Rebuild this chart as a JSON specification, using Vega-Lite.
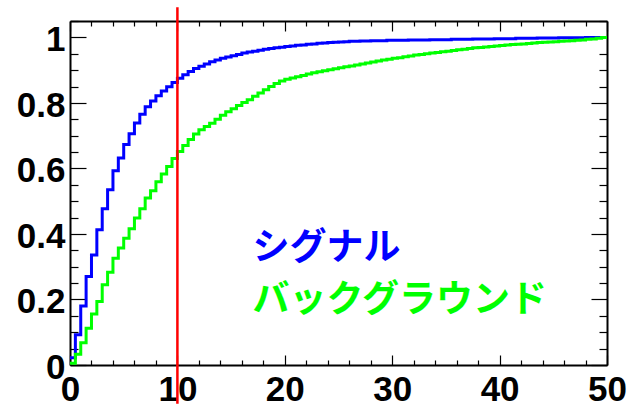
{
  "$schema": "https://vega.github.io/schema/vega-lite/v6.json",
  "width": 537,
  "height": 344,
  "autosize": {"type": "none"},
  "padding": {"left": 70, "top": 21, "right": 26, "bottom": 39},
  "background": "white",
  "config": {
    "view": {"stroke": null},
    "axis": {
      "title": null,
      "grid": false,
      "domainColor": "black",
      "domainWidth": 2,
      "tickColor": "black",
      "tickWidth": 1.2,
      "labelColor": "black",
      "labelFont": "Liberation Sans",
      "labelFontWeight": "bold",
      "labelFontSize": 35,
      "labelFlush": false,
      "labelOverlap": false,
      "labelBound": false
    }
  },
  "resolve": {"axis": {"x": "independent", "y": "independent"}},
  "datasets": {
    "cdf": [
      {"series": "シグナル", "x": 0, "y": 0.022}, {"series": "シグナル", "x": 0.5, "y": 0.092}, {"series": "シグナル", "x": 1, "y": 0.18}, {"series": "シグナル", "x": 1.5, "y": 0.27},
      {"series": "シグナル", "x": 2, "y": 0.336}, {"series": "シグナル", "x": 2.5, "y": 0.413}, {"series": "シグナル", "x": 3, "y": 0.477}, {"series": "シグナル", "x": 3.5, "y": 0.535},
      {"series": "シグナル", "x": 4, "y": 0.593}, {"series": "シグナル", "x": 4.5, "y": 0.632}, {"series": "シグナル", "x": 5, "y": 0.673}, {"series": "シグナル", "x": 5.5, "y": 0.706},
      {"series": "シグナル", "x": 6, "y": 0.739}, {"series": "シグナル", "x": 6.5, "y": 0.765}, {"series": "シグナル", "x": 7, "y": 0.788}, {"series": "シグナル", "x": 7.5, "y": 0.806},
      {"series": "シグナル", "x": 8, "y": 0.822}, {"series": "シグナル", "x": 8.5, "y": 0.836}, {"series": "シグナル", "x": 9, "y": 0.849}, {"series": "シグナル", "x": 9.5, "y": 0.862},
      {"series": "シグナル", "x": 10, "y": 0.875}, {"series": "シグナル", "x": 10.5, "y": 0.886}, {"series": "シグナル", "x": 11, "y": 0.896}, {"series": "シグナル", "x": 11.5, "y": 0.905},
      {"series": "シグナル", "x": 12, "y": 0.912}, {"series": "シグナル", "x": 12.5, "y": 0.919}, {"series": "シグナル", "x": 13, "y": 0.926}, {"series": "シグナル", "x": 13.5, "y": 0.931},
      {"series": "シグナル", "x": 14, "y": 0.936}, {"series": "シグナル", "x": 14.5, "y": 0.94}, {"series": "シグナル", "x": 15, "y": 0.944}, {"series": "シグナル", "x": 15.5, "y": 0.948},
      {"series": "シグナル", "x": 16, "y": 0.952}, {"series": "シグナル", "x": 16.5, "y": 0.955}, {"series": "シグナル", "x": 17, "y": 0.958}, {"series": "シグナル", "x": 17.5, "y": 0.961},
      {"series": "シグナル", "x": 18, "y": 0.964}, {"series": "シグナル", "x": 18.5, "y": 0.966}, {"series": "シグナル", "x": 19, "y": 0.968}, {"series": "シグナル", "x": 19.5, "y": 0.97},
      {"series": "シグナル", "x": 20, "y": 0.972}, {"series": "シグナル", "x": 20.5, "y": 0.974}, {"series": "シグナル", "x": 21, "y": 0.976}, {"series": "シグナル", "x": 21.5, "y": 0.977},
      {"series": "シグナル", "x": 22, "y": 0.979}, {"series": "シグナル", "x": 22.5, "y": 0.98}, {"series": "シグナル", "x": 23, "y": 0.982}, {"series": "シグナル", "x": 23.5, "y": 0.983},
      {"series": "シグナル", "x": 24, "y": 0.984}, {"series": "シグナル", "x": 24.5, "y": 0.985}, {"series": "シグナル", "x": 25, "y": 0.986}, {"series": "シグナル", "x": 25.5, "y": 0.987},
      {"series": "シグナル", "x": 26, "y": 0.988}, {"series": "シグナル", "x": 26.5, "y": 0.988}, {"series": "シグナル", "x": 27, "y": 0.989}, {"series": "シグナル", "x": 27.5, "y": 0.989},
      {"series": "シグナル", "x": 28, "y": 0.99}, {"series": "シグナル", "x": 28.5, "y": 0.99}, {"series": "シグナル", "x": 29, "y": 0.99}, {"series": "シグナル", "x": 29.5, "y": 0.991},
      {"series": "シグナル", "x": 30, "y": 0.991}, {"series": "シグナル", "x": 30.5, "y": 0.991}, {"series": "シグナル", "x": 31, "y": 0.991}, {"series": "シグナル", "x": 31.5, "y": 0.992},
      {"series": "シグナル", "x": 32, "y": 0.992}, {"series": "シグナル", "x": 32.5, "y": 0.992}, {"series": "シグナル", "x": 33, "y": 0.992}, {"series": "シグナル", "x": 33.5, "y": 0.993},
      {"series": "シグナル", "x": 34, "y": 0.993}, {"series": "シグナル", "x": 34.5, "y": 0.993}, {"series": "シグナル", "x": 35, "y": 0.993}, {"series": "シグナル", "x": 35.5, "y": 0.994},
      {"series": "シグナル", "x": 36, "y": 0.994}, {"series": "シグナル", "x": 36.5, "y": 0.994}, {"series": "シグナル", "x": 37, "y": 0.994}, {"series": "シグナル", "x": 37.5, "y": 0.995},
      {"series": "シグナル", "x": 38, "y": 0.995}, {"series": "シグナル", "x": 38.5, "y": 0.995}, {"series": "シグナル", "x": 39, "y": 0.995}, {"series": "シグナル", "x": 39.5, "y": 0.996},
      {"series": "シグナル", "x": 40, "y": 0.996}, {"series": "シグナル", "x": 40.5, "y": 0.996}, {"series": "シグナル", "x": 41, "y": 0.996}, {"series": "シグナル", "x": 41.5, "y": 0.997},
      {"series": "シグナル", "x": 42, "y": 0.997}, {"series": "シグナル", "x": 42.5, "y": 0.997}, {"series": "シグナル", "x": 43, "y": 0.997}, {"series": "シグナル", "x": 43.5, "y": 0.998},
      {"series": "シグナル", "x": 44, "y": 0.998}, {"series": "シグナル", "x": 44.5, "y": 0.998}, {"series": "シグナル", "x": 45, "y": 0.998}, {"series": "シグナル", "x": 45.5, "y": 0.999},
      {"series": "シグナル", "x": 46, "y": 0.999}, {"series": "シグナル", "x": 46.5, "y": 0.999}, {"series": "シグナル", "x": 47, "y": 0.999}, {"series": "シグナル", "x": 47.5, "y": 0.999},
      {"series": "シグナル", "x": 48, "y": 1}, {"series": "シグナル", "x": 48.5, "y": 1}, {"series": "シグナル", "x": 49, "y": 1}, {"series": "シグナル", "x": 49.5, "y": 1},
      {"series": "シグナル", "x": 50, "y": 1},
      {"series": "バックグラウンド", "x": 0, "y": 0.005}, {"series": "バックグラウンド", "x": 0.5, "y": 0.033}, {"series": "バックグラウンド", "x": 1, "y": 0.068}, {"series": "バックグラウンド", "x": 1.5, "y": 0.112},
      {"series": "バックグラウンド", "x": 2, "y": 0.156}, {"series": "バックグラウンド", "x": 2.5, "y": 0.194}, {"series": "バックグラウンド", "x": 3, "y": 0.245}, {"series": "バックグラウンド", "x": 3.5, "y": 0.283},
      {"series": "バックグラウンド", "x": 4, "y": 0.326}, {"series": "バックグラウンド", "x": 4.5, "y": 0.357}, {"series": "バックグラウンド", "x": 5, "y": 0.387}, {"series": "バックグラウンド", "x": 5.5, "y": 0.416},
      {"series": "バックグラウンド", "x": 6, "y": 0.449}, {"series": "バックグラウンド", "x": 6.5, "y": 0.477}, {"series": "バックグラウンド", "x": 7, "y": 0.51}, {"series": "バックグラウンド", "x": 7.5, "y": 0.532},
      {"series": "バックグラウンド", "x": 8, "y": 0.559}, {"series": "バックグラウンド", "x": 8.5, "y": 0.583}, {"series": "バックグラウンド", "x": 9, "y": 0.606}, {"series": "バックグラウンド", "x": 9.5, "y": 0.63},
      {"series": "バックグラウンド", "x": 10, "y": 0.652}, {"series": "バックグラウンド", "x": 10.5, "y": 0.67}, {"series": "バックグラウンド", "x": 11, "y": 0.688}, {"series": "バックグラウンド", "x": 11.5, "y": 0.705},
      {"series": "バックグラウンド", "x": 12, "y": 0.718}, {"series": "バックグラウンド", "x": 12.5, "y": 0.728}, {"series": "バックグラウンド", "x": 13, "y": 0.738}, {"series": "バックグラウンド", "x": 13.5, "y": 0.75},
      {"series": "バックグラウンド", "x": 14, "y": 0.762}, {"series": "バックグラウンド", "x": 14.5, "y": 0.773}, {"series": "バックグラウンド", "x": 15, "y": 0.782}, {"series": "バックグラウンド", "x": 15.5, "y": 0.792},
      {"series": "バックグラウンド", "x": 16, "y": 0.801}, {"series": "バックグラウンド", "x": 16.5, "y": 0.81}, {"series": "バックグラウンド", "x": 17, "y": 0.82}, {"series": "バックグラウンド", "x": 17.5, "y": 0.83},
      {"series": "バックグラウンド", "x": 18, "y": 0.84}, {"series": "バックグラウンド", "x": 18.5, "y": 0.85}, {"series": "バックグラウンド", "x": 19, "y": 0.859}, {"series": "バックグラウンド", "x": 19.5, "y": 0.867},
      {"series": "バックグラウンド", "x": 20, "y": 0.872}, {"series": "バックグラウンド", "x": 20.5, "y": 0.876}, {"series": "バックグラウンド", "x": 21, "y": 0.88}, {"series": "バックグラウンド", "x": 21.5, "y": 0.884},
      {"series": "バックグラウンド", "x": 22, "y": 0.888}, {"series": "バックグラウンド", "x": 22.5, "y": 0.892}, {"series": "バックグラウンド", "x": 23, "y": 0.895}, {"series": "バックグラウンド", "x": 23.5, "y": 0.898},
      {"series": "バックグラウンド", "x": 24, "y": 0.901}, {"series": "バックグラウンド", "x": 24.5, "y": 0.904}, {"series": "バックグラウンド", "x": 25, "y": 0.907}, {"series": "バックグラウンド", "x": 25.5, "y": 0.91},
      {"series": "バックグラウンド", "x": 26, "y": 0.913}, {"series": "バックグラウンド", "x": 26.5, "y": 0.916}, {"series": "バックグラウンド", "x": 27, "y": 0.919}, {"series": "バックグラウンド", "x": 27.5, "y": 0.922},
      {"series": "バックグラウンド", "x": 28, "y": 0.925}, {"series": "バックグラウンド", "x": 28.5, "y": 0.928}, {"series": "バックグラウンド", "x": 29, "y": 0.931}, {"series": "バックグラウンド", "x": 29.5, "y": 0.933},
      {"series": "バックグラウンド", "x": 30, "y": 0.936}, {"series": "バックグラウンド", "x": 30.5, "y": 0.938}, {"series": "バックグラウンド", "x": 31, "y": 0.941}, {"series": "バックグラウンド", "x": 31.5, "y": 0.943},
      {"series": "バックグラウンド", "x": 32, "y": 0.946}, {"series": "バックグラウンド", "x": 32.5, "y": 0.948}, {"series": "バックグラウンド", "x": 33, "y": 0.95}, {"series": "バックグラウンド", "x": 33.5, "y": 0.952},
      {"series": "バックグラウンド", "x": 34, "y": 0.954}, {"series": "バックグラウンド", "x": 34.5, "y": 0.956}, {"series": "バックグラウンド", "x": 35, "y": 0.958}, {"series": "バックグラウンド", "x": 35.5, "y": 0.96},
      {"series": "バックグラウンド", "x": 36, "y": 0.962}, {"series": "バックグラウンド", "x": 36.5, "y": 0.964}, {"series": "バックグラウンド", "x": 37, "y": 0.966}, {"series": "バックグラウンド", "x": 37.5, "y": 0.968},
      {"series": "バックグラウンド", "x": 38, "y": 0.969}, {"series": "バックグラウンド", "x": 38.5, "y": 0.971}, {"series": "バックグラウンド", "x": 39, "y": 0.972}, {"series": "バックグラウンド", "x": 39.5, "y": 0.974},
      {"series": "バックグラウンド", "x": 40, "y": 0.975}, {"series": "バックグラウンド", "x": 40.5, "y": 0.977}, {"series": "バックグラウンド", "x": 41, "y": 0.978}, {"series": "バックグラウンド", "x": 41.5, "y": 0.979},
      {"series": "バックグラウンド", "x": 42, "y": 0.98}, {"series": "バックグラウンド", "x": 42.5, "y": 0.981}, {"series": "バックグラウンド", "x": 43, "y": 0.983}, {"series": "バックグラウンド", "x": 43.5, "y": 0.984},
      {"series": "バックグラウンド", "x": 44, "y": 0.985}, {"series": "バックグラウンド", "x": 44.5, "y": 0.986}, {"series": "バックグラウンド", "x": 45, "y": 0.987}, {"series": "バックグラウンド", "x": 45.5, "y": 0.988},
      {"series": "バックグラウンド", "x": 46, "y": 0.989}, {"series": "バックグラウンド", "x": 46.5, "y": 0.99}, {"series": "バックグラウンド", "x": 47, "y": 0.991}, {"series": "バックグラウンド", "x": 47.5, "y": 0.992},
      {"series": "バックグラウンド", "x": 48, "y": 0.994}, {"series": "バックグラウンド", "x": 48.5, "y": 0.995}, {"series": "バックグラウンド", "x": 49, "y": 0.997}, {"series": "バックグラウンド", "x": 49.5, "y": 1},
      {"series": "バックグラウンド", "x": 50, "y": 1}
    ],
    "names": [
      {"series": "シグナル", "x": 17, "y": 0.354},
      {"series": "バックグラウンド", "x": 17, "y": 0.196}
    ],
    "cut": [
      {"x": 10, "y": -0.118, "y2": 1.092}
    ]
  },
  "layer": [
    {
      "data": {"name": "cdf"},
      "transform": [{"filter": "datum.series === 'シグナル'"}],
      "mark": {"type": "line", "interpolate": "step-after", "strokeWidth": 3},
      "encoding": {
        "x": {
          "field": "x", "type": "quantitative", "scale": {"domain": [0, 50], "nice": false},
          "axis": {"orient": "bottom", "values": [0, 10, 20, 30, 40, 50], "tickSize": -10,
                   "labelBaseline": "alphabetic", "labelPadding": 45, "labelExpr": "format(datum.value, '~g')"}
        },
        "y": {
          "field": "y", "type": "quantitative", "scale": {"domain": [0, 1.05], "nice": false, "zero": false},
          "axis": {"orient": "left", "values": [0, 0.2, 0.4, 0.6, 0.8, 1], "tickSize": -16,
                   "labelBaseline": "alphabetic", "labelOffset": 13.5, "labelPadding": 21, "labelExpr": "format(datum.value, '~g')"}
        },
        "color": {"field": "series", "type": "nominal", "legend": null,
                  "scale": {"domain": ["シグナル", "バックグラウンド"], "range": ["#0000ff", "#00ff00"]}}
      }
    },
    {
      "data": {"name": "cdf"},
      "transform": [{"filter": "datum.series === 'バックグラウンド'"}],
      "mark": {"type": "line", "interpolate": "step-after", "strokeWidth": 3},
      "encoding": {
        "x": {
          "field": "x", "type": "quantitative", "scale": {"domain": [0, 50], "nice": false},
          "axis": {"orient": "bottom", "values": [2, 4, 6, 8, 12, 14, 16, 18, 22, 24, 26, 28, 32, 34, 36, 38, 42, 44, 46, 48],
                   "tickSize": -5, "labels": false, "domain": false}
        },
        "y": {
          "field": "y", "type": "quantitative", "scale": {"domain": [0, 1.05], "nice": false, "zero": false},
          "axis": {"orient": "left", "values": [0.05, 0.1, 0.15, 0.25, 0.3, 0.35, 0.45, 0.5, 0.55, 0.65, 0.7, 0.75, 0.85, 0.9, 0.95, 1.05],
                   "tickSize": -8, "labels": false, "domain": false}
        },
        "color": {"field": "series", "type": "nominal", "legend": null,
                  "scale": {"domain": ["シグナル", "バックグラウンド"], "range": ["#0000ff", "#00ff00"]}}
      }
    },
    {
      "data": {"name": "cut"},
      "mark": {"type": "rule", "color": "#ff0000", "strokeWidth": 2.5, "clip": false},
      "encoding": {
        "x": {
          "field": "x", "type": "quantitative", "scale": {"domain": [0, 50], "nice": false},
          "axis": {"orient": "top", "values": [0, 10, 20, 30, 40, 50], "tickSize": -10, "labels": false}
        },
        "y": {
          "field": "y", "type": "quantitative", "scale": {"domain": [0, 1.05], "nice": false, "zero": false},
          "axis": {"orient": "right", "values": [0, 0.2, 0.4, 0.6, 0.8, 1], "tickSize": -16, "labels": false}
        },
        "y2": {"field": "y2"}
      }
    },
    {
      "data": {"name": "names"},
      "mark": {"type": "text", "align": "left", "baseline": "middle", "font": "Noto Sans CJK JP", "fontWeight": "bold", "fontSize": 37},
      "encoding": {
        "x": {
          "field": "x", "type": "quantitative", "scale": {"domain": [0, 50], "nice": false},
          "axis": {"orient": "top", "values": [2, 4, 6, 8, 12, 14, 16, 18, 22, 24, 26, 28, 32, 34, 36, 38, 42, 44, 46, 48],
                   "tickSize": -5, "labels": false, "domain": false}
        },
        "y": {
          "field": "y", "type": "quantitative", "scale": {"domain": [0, 1.05], "nice": false, "zero": false},
          "axis": {"orient": "right", "values": [0.05, 0.1, 0.15, 0.25, 0.3, 0.35, 0.45, 0.5, 0.55, 0.65, 0.7, 0.75, 0.85, 0.9, 0.95, 1.05],
                   "tickSize": -8, "labels": false, "domain": false}
        },
        "text": {"field": "series"},
        "color": {"field": "series", "type": "nominal", "legend": null,
                  "scale": {"domain": ["シグナル", "バックグラウンド"], "range": ["#0000ff", "#00ff00"]}}
      }
    }
  ]
}
